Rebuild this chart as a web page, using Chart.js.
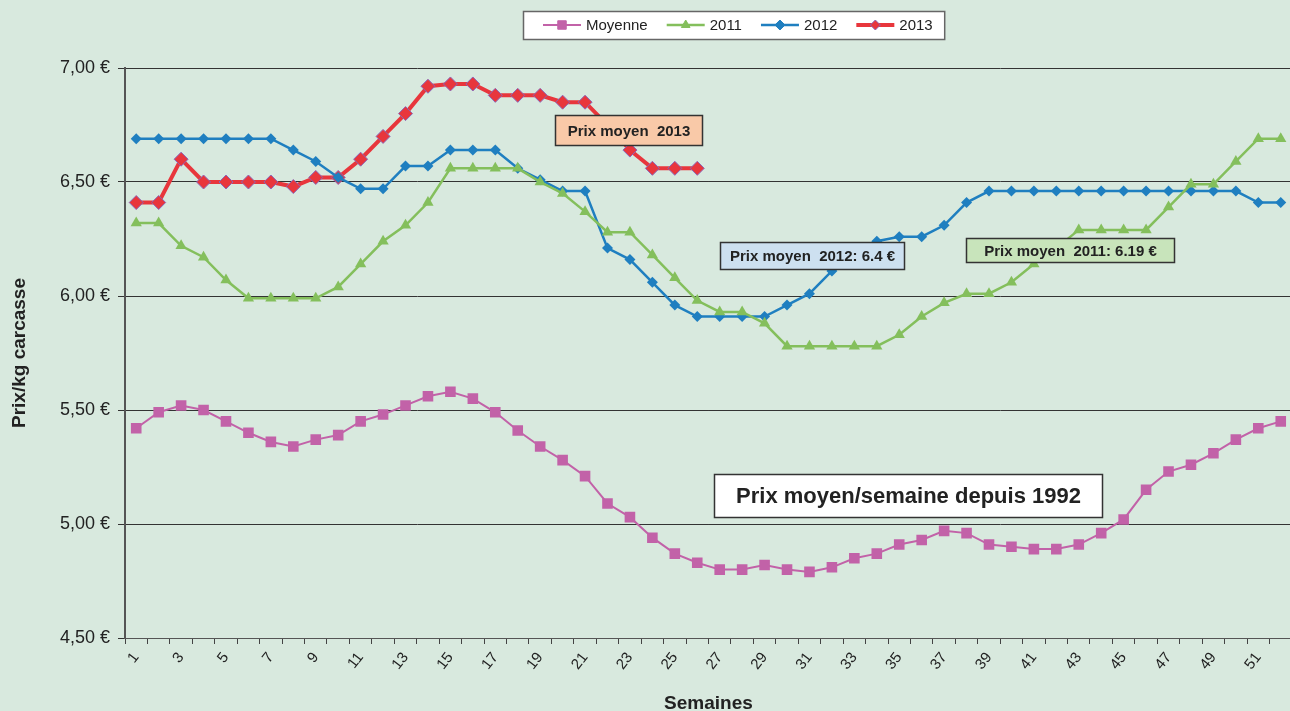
<!DOCTYPE html>
<html>
<head>
<meta charset="utf-8">
<script src="https://cdn.jsdelivr.net/npm/chart.js@4.4.0/dist/chart.umd.min.js"></script>
<style>
html, body { margin: 0; padding: 0; background: #d8e9de; overflow: hidden; }
#wrap { width: 1300px; height: 711px; }
</style>
</head>
<body>
<div id="wrap"><canvas id="prixChart" width="1300" height="711"></canvas></div>
<script>
const ctx = document.getElementById('prixChart').getContext('2d');

// semaines 1..52
let semaines = ['1','2','3','4','5','6','7','8','9','10','11','12','13','14','15','16','17','18','19','20',
    '21','22','23','24','25','26','27','28','29','30','31','32','33','34','35','36','37','38','39','40',
    '41','42','43','44','45','46','47','48','49','50','51','52'];

let moyenne = [5.42,5.49,5.52,5.50,5.45,5.40,5.36,5.34,5.37,5.39,
    5.45,5.48,5.52,5.56,5.58,5.55,5.49,5.41,5.34,5.28,
    5.21,5.09,5.03,4.94,4.87,4.83,4.80,4.80,4.82,4.80,
    4.79,4.81,4.85,4.87,4.91,4.93,4.97,4.96,4.91,4.90,
    4.89,4.89,4.91,4.96,5.02,5.15,5.23,5.26,5.31,5.37,
    5.42,5.45];

let prix2011 = [6.32,6.32,6.22,6.17,6.07,5.99,5.99,5.99,5.99,6.04,
    6.14,6.24,6.31,6.41,6.56,6.56,6.56,6.56,6.50,6.45,
    6.37,6.28,6.28,6.18,6.08,5.98,5.93,5.93,5.88,5.78,
    5.78,5.78,5.78,5.78,5.83,5.91,5.97,6.01,6.01,6.06,
    6.14,6.21,6.29,6.29,6.29,6.29,6.39,6.49,6.49,6.59,
    6.69,6.69];

let prix2012 = [6.69,6.69,6.69,6.69,6.69,6.69,6.69,6.64,6.59,6.52,
    6.47,6.47,6.57,6.57,6.64,6.64,6.64,6.56,6.51,6.46,
    6.46,6.21,6.16,6.06,5.96,5.91,5.91,5.91,5.91,5.96,
    6.01,6.11,6.17,6.24,6.26,6.26,6.31,6.41,6.46,6.46,
    6.46,6.46,6.46,6.46,6.46,6.46,6.46,6.46,6.46,6.46,
    6.41,6.41];

let prix2013 = [6.41,6.41,6.60,6.50,6.50,6.50,6.50,6.48,6.52,6.52,
    6.60,6.70,6.80,6.92,6.93,6.93,6.88,6.88,6.88,6.85,
    6.85,6.75,6.64,6.56,6.56,6.56];

let yTickValues = [4.5, 5, 5.5, 6, 6.5, 7];
let yTickLabels = ['4,50 €', '5,00 €', '5,50 €', '6,00 €', '6,50 €', '7,00 €'];

const FONT = '"Liberation Sans", Arial, Helvetica, sans-serif';

// encadrés de texte (ancrés sur les échelles)
const encadres = [
    { text: 'Prix moyen  2013', week: 19.64, value: 6.794, w: 147, h: 30, fill: '#f9c9a8', size: 15 },
    { text: 'Prix moyen  2012: 6.4 €', week: 27.03, value: 6.237, w: 184, h: 27, fill: '#cde0f0', size: 15 },
    { text: 'Prix moyen  2011: 6.19 €', week: 37.96, value: 6.254, w: 208, h: 24, fill: '#c8e4bb', size: 15 },
    { text: 'Prix moyen/semaine depuis 1992', week: 26.76, value: 5.219, w: 388, h: 43, fill: '#ffffff', size: 22 }
];

function drawMarker(c, style, x, y, r, fill, stroke) {
    c.save();
    c.beginPath();
    if (style === 'rect') {
        const s = r * Math.SQRT1_2;
        c.rect(x - s, y - s, 2 * s, 2 * s);
    } else if (style === 'triangle') {
        c.moveTo(x, y - r);
        c.lineTo(x + r * Math.sin(2 * Math.PI / 3), y - r * Math.cos(2 * Math.PI / 3));
        c.lineTo(x + r * Math.sin(4 * Math.PI / 3), y - r * Math.cos(4 * Math.PI / 3));
    } else {
        c.moveTo(x - r, y); c.lineTo(x, y - r); c.lineTo(x + r, y); c.lineTo(x, y + r);
    }
    c.closePath();
    c.fillStyle = fill;
    c.fill();
    if (stroke) { c.strokeStyle = stroke; c.lineWidth = 1; c.stroke(); }
    c.restore();
}

Chart.register({
    id: 'decor',
    afterDatasetsDraw: (chart) => {
        const c = chart.ctx;
        const xs = chart.scales.x, ys = chart.scales.y;
        encadres.forEach(e => {
            const left = Math.round(xs.getPixelForValue(e.week - 1)) + 0.5;
            const top = Math.round(ys.getPixelForValue(e.value)) + 0.5;
            c.save();
            c.fillStyle = e.fill;
            c.fillRect(left, top, e.w, e.h);
            c.strokeStyle = '#333';
            c.lineWidth = 1.5;
            c.strokeRect(left, top, e.w, e.h);
            c.fillStyle = '#222';
            c.font = 'bold ' + e.size + 'px ' + FONT;
            c.textAlign = 'center';
            c.textBaseline = 'middle';
            c.fillText(e.text, left + e.w / 2, top + e.h / 2 + 1);
            c.restore();
        });
    },
    afterDraw: (chart) => {
        // légende encadrée en haut
        const c = chart.ctx;
        const items = chart.data.datasets.map(d => ({
            label: d.label, color: d.borderColor, style: d.pointStyle,
            fill: d.pointBackgroundColor, stroke: d.pointBorderColor, lw: d.borderWidth
        }));
        c.save();
        c.font = '15px ' + FONT;
        let x = 543;
        const y = 25;
        const pos = [];
        items.forEach(it => {
            pos.push(x);
            x += 38 + 5 + c.measureText(it.label).width + 19;
        });
        const boxL = 523.5, boxR = x - 19 + 12;
        c.fillStyle = '#ffffff';
        c.fillRect(boxL, 11.5, boxR - boxL, 28);
        c.strokeStyle = '#666';
        c.lineWidth = 1.5;
        c.strokeRect(boxL, 11.5, boxR - boxL, 28);
        items.forEach((it, i) => {
            const lx = pos[i];
            c.strokeStyle = it.color;
            c.lineWidth = it.lw;
            c.beginPath(); c.moveTo(lx, y); c.lineTo(lx + 38, y); c.stroke();
            drawMarker(c, it.style, lx + 19, y, it.style === 'rect' ? 6 : 5, it.fill, it.stroke);
            c.fillStyle = '#222';
            c.textAlign = 'left';
            c.textBaseline = 'middle';
            c.fillText(it.label, lx + 43, y + 1);
        });
        c.restore();
    }
});

const chart = new Chart(ctx, {
    type: 'line',
    data: {
        labels: semaines,
        datasets: [{
            label: 'Moyenne',
            data: moyenne,
            borderColor: '#c262a8',
            borderWidth: 2,
            pointStyle: 'rect',
            pointRadius: 7.5,
            pointBackgroundColor: '#c262a8',
            pointBorderColor: '#c262a8',
            pointBorderWidth: 0,
            tension: 0
        }, {
            label: '2011',
            data: prix2011,
            borderColor: '#84bf5c',
            borderWidth: 2.5,
            pointStyle: 'triangle',
            pointRadius: 6.5,
            pointBackgroundColor: '#84bf5c',
            pointBorderColor: '#84bf5c',
            pointBorderWidth: 0,
            tension: 0
        }, {
            label: '2012',
            data: prix2012,
            borderColor: '#1f7fc0',
            borderWidth: 2.5,
            pointStyle: 'rectRot',
            pointRadius: 5.5,
            pointBackgroundColor: '#1f7fc0',
            pointBorderColor: '#1f7fc0',
            pointBorderWidth: 0,
            tension: 0
        }, {
            label: '2013',
            data: prix2013,
            borderColor: '#e8363c',
            borderWidth: 4,
            pointStyle: 'rectRot',
            pointRadius: 7,
            pointBackgroundColor: '#e8363c',
            pointBorderColor: '#8a66b8',
            pointBorderWidth: 1,
            tension: 0
        }]
    },
    options: {
        responsive: false,
        animation: false,
        devicePixelRatio: 1,
        layout: { padding: { top: 68, left: 0, right: 0, bottom: 0 } },
        plugins: {
            legend: { display: false },
            tooltip: { enabled: false }
        },
        scales: {
            x: {
                type: 'category',
                offset: true,
                grid: { offset: true, drawOnChartArea: false, color: '#444', tickLength: 6, lineWidth: 1 },
                border: { display: true, color: '#555', width: 1 },
                ticks: {
                    autoSkip: false,
                    minRotation: 52,
                    maxRotation: 52,
                    padding: 5,
                    color: '#222',
                    font: { family: FONT, size: 15 },
                    callback: (v, i) => (i % 2 === 0 ? semaines[i] : '')
                },
                title: {
                    display: true,
                    text: 'Semaines',
                    color: '#222',
                    font: { family: FONT, size: 19, weight: 'bold', lineHeight: 1 },
                    padding: { top: 0, bottom: -2 }
                },
                afterFit: (s) => { s.height = 73; }
            },
            y: {
                min: 4.5,
                max: 7,
                grid: { color: '#333', lineWidth: 1, tickLength: 7 },
                border: { color: '#555', width: 2 },
                afterBuildTicks: (s) => { s.ticks = yTickValues.map(v => ({ value: v })); },
                ticks: {
                    padding: 8,
                    color: '#222',
                    font: { family: FONT, size: 18 },
                    callback: (v) => yTickLabels[yTickValues.indexOf(v)]
                },
                title: {
                    display: true,
                    text: 'Prix/kg carcasse',
                    color: '#222',
                    font: { family: FONT, size: 19, weight: 'bold', lineHeight: 1 },
                    padding: { top: 10, bottom: 0 }
                },
                afterFit: (s) => { s.width = 125; }
            }
        }
    }
});
</script>
</body>
</html>
